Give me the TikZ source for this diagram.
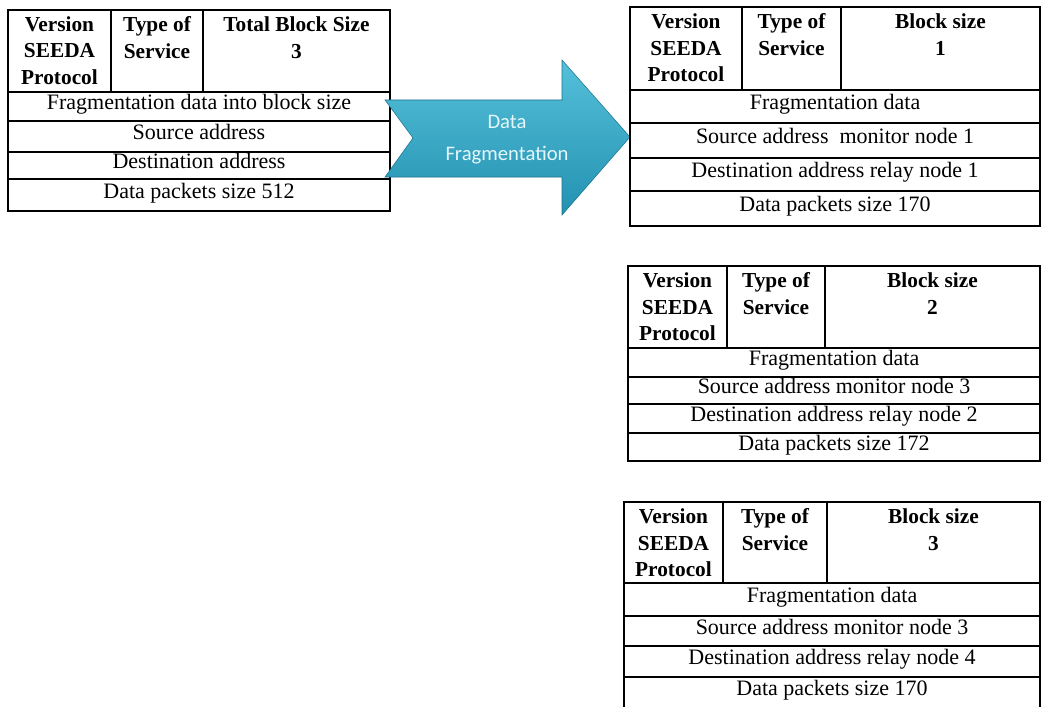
\documentclass[tikz,border=0pt]{standalone}
\usepackage{fontspec}
\setmainfont{Liberation Serif}
\newfontfamily\arrowfont{Carlito}
\usetikzlibrary{fit}
\definecolor{arrowtop}{HTML}{55C0DA}
\definecolor{arrowbot}{HTML}{2391B1}
\definecolor{arrowtxt}{HTML}{E4F7FB}
\tikzset{
  cell/.style={draw=black, line width=0.9pt, inner sep=0pt},
  body/.style={font=\fontsize{16.5}{19}\selectfont, inner sep=0pt, text height=0.72em, text depth=0.22em, anchor=center},
  head/.style={font=\fontsize{16}{20.2}\selectfont\bfseries, align=center, anchor=north, inner sep=0pt},
  arrtxt/.style={font=\arrowfont\fontsize{15.5}{25}\selectfont, text=arrowtxt, align=center, inner sep=0pt}
}
\begin{document}
\begin{tikzpicture}[x=0.75pt,y=-0.75pt]
\useasboundingbox (0,0) rectangle (1041,706);
\fill[white] (0,0) rectangle (1041,706);

% ---------- left table ----------
\node[cell, fit={(8,10)(111,92)}] (l-c1) {};
\node[cell, fit={(111,10)(203,92)}] (l-c2) {};
\node[cell, fit={(203,10)(390,92)}] (l-c3) {};
\node[head] (l-h1) at (59.5,16) {Version\\SEEDA\\Protocol};
\node[head] (l-h2) at (157,16) {Type of\\Service};
\node[head] (l-h3) at (296.5,16) {Total Block Size\\3};
\node[cell, fit={(8,92)(390,121)}] (l-r1) {};
\node[cell, fit={(8,121)(390,152)}] (l-r2) {};
\node[cell, fit={(8,152)(390,179)}] (l-r3) {};
\node[cell, fit={(8,179)(390,211)}] (l-r4) {};
\node[body] (l-t1) at (l-r1.center) {Fragmentation data into block size};
\node[body] (l-t2) at (l-r2.center) {Source address};
\node[body] (l-t3) at (l-r3.center) {Destination address};
\node[body] (l-t4) at (l-r4.center) {Data packets size 512};

% ---------- arrow ----------
\shade[top color=arrowtop, bottom color=arrowbot, draw=arrowbot!80!black, line width=0.4pt]
  (385,100) -- (562,100) -- (562,60) -- (630,137) -- (562,215) -- (562,177)
  -- (385,177) -- (413,138) -- cycle;
\node[arrtxt] (arr-t1) at (507,122) {Data};
\node[arrtxt] (arr-t2) at (507,155) {Fragmentation};

% ---------- right table 1 ----------
\node[cell, fit={(630,7)(742,90)}] (a-c1) {};
\node[cell, fit={(742,7)(841,90)}] (a-c2) {};
\node[cell, fit={(841,7)(1040,90)}] (a-c3) {};
\node[head] (a-h1) at (686,13) {Version\\SEEDA\\Protocol};
\node[head] (a-h2) at (791.5,13) {Type of\\Service};
\node[head] (a-h3) at (940.5,13) {Block size\\1};
\node[cell, fit={(630,90)(1040,123)}] (a-r1) {};
\node[cell, fit={(630,123)(1040,158)}] (a-r2) {};
\node[cell, fit={(630,158)(1040,191)}] (a-r3) {};
\node[cell, fit={(630,191)(1040,226)}] (a-r4) {};
\node[body] (a-t1) at (a-r1.center) {Fragmentation data};
\node[body] (a-t2) at (a-r2.center) {Source address\ \ monitor node 1};
\node[body] (a-t3) at (a-r3.center) {Destination address relay node 1};
\node[body] (a-t4) at (a-r4.center) {Data packets size 170};

% ---------- right table 2 ----------
\node[cell, fit={(628,266)(727,348)}] (b-c1) {};
\node[cell, fit={(727,266)(825,348)}] (b-c2) {};
\node[cell, fit={(825,266)(1040,348)}] (b-c3) {};
\node[head] (b-h1) at (677.5,272) {Version\\SEEDA\\Protocol};
\node[head] (b-h2) at (776,272) {Type of\\Service};
\node[head] (b-h3) at (932.5,272) {Block size\\2};
\node[cell, fit={(628,348)(1040,377)}] (b-r1) {};
\node[cell, fit={(628,377)(1040,404)}] (b-r2) {};
\node[cell, fit={(628,404)(1040,433)}] (b-r3) {};
\node[cell, fit={(628,433)(1040,461)}] (b-r4) {};
\node[body] (b-t1) at (b-r1.center) {Fragmentation data};
\node[body] (b-t2) at (b-r2.center) {Source address monitor node 3};
\node[body] (b-t3) at (b-r3.center) {Destination address relay node 2};
\node[body] (b-t4) at (b-r4.center) {Data packets size 172};

% ---------- right table 3 ----------
\node[cell, fit={(624,502)(723,583)}] (c-c1) {};
\node[cell, fit={(723,502)(827,583)}] (c-c2) {};
\node[cell, fit={(827,502)(1040,583)}] (c-c3) {};
\node[head] (c-h1) at (673.5,508) {Version\\SEEDA\\Protocol};
\node[head] (c-h2) at (775,508) {Type of\\Service};
\node[head] (c-h3) at (933.5,508) {Block size\\3};
\node[cell, fit={(624,583)(1040,616)}] (c-r1) {};
\node[cell, fit={(624,616)(1040,646)}] (c-r2) {};
\node[cell, fit={(624,646)(1040,677)}] (c-r3) {};
\node[cell, fit={(624,677)(1040,716)}] (c-r4) {};
\node[body] (c-t1) at (c-r1.center) {Fragmentation data};
\node[body] (c-t2) at (c-r2.center) {Source address monitor node 3};
\node[body] (c-t3) at (c-r3.center) {Destination address relay node 4};
\node[body] (c-t4) at (832,692) {Data packets size 170};
\end{tikzpicture}
\end{document}
